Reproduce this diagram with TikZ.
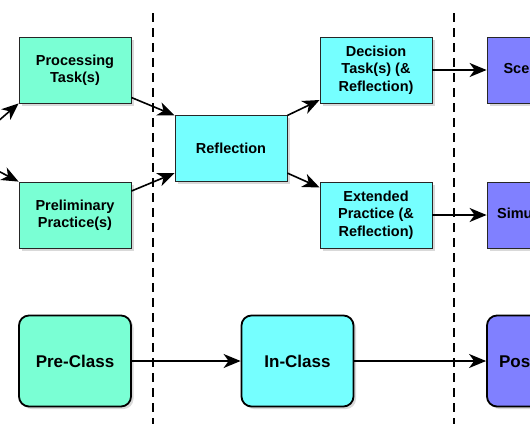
\documentclass[tikz,border=0pt]{standalone}
\usepackage{fontspec}
\setmainfont{Liberation Sans}
\usetikzlibrary{arrows.meta}
\usetikzlibrary{shadows}

\definecolor{preclr}{RGB}{122,255,212}
\definecolor{inclr}{RGB}{117,255,255}
\definecolor{postclr}{RGB}{128,128,255}

\tikzset{
  task/.style={draw=black!85, line width=.8pt, minimum width=112pt, minimum height=66pt, align=center,
    font=\bfseries\fontsize{14.5}{17.5}\selectfont,
    drop shadow={shadow xshift=2.5pt, shadow yshift=-2.5pt, opacity=.3}},
  phase/.style={draw=black, line width=1.8pt, rounded corners=10pt, minimum width=112pt, minimum height=91pt,
    font=\bfseries\fontsize{17}{20}\selectfont,
    drop shadow={shadow xshift=2.5pt, shadow yshift=-2.5pt, opacity=.3}},
  flow/.style={line width=1.6pt, -{Stealth[length=17pt,width=14pt,inset=5pt]}},
  divider/.style={line width=1.8pt, dash pattern=on 9pt off 6pt}
}

\begin{document}
\begin{tikzpicture}[x=1pt,y=-1pt]
\useasboundingbox (0,0) rectangle (530,442);
\clip (0,0) rectangle (530,442);
% dividers
\foreach \x in {153,454}
  \draw[divider] (\x,13) -- (\x,424);
% upper rows
\node[task, fill=preclr] (proc) at (75,70) {Processing\\Task(s)};
\node[task, fill=preclr] (prelim) at (75,215) {Preliminary\\Practice(s)};
\node[task, fill=inclr] (refl) at (231,148) {Reflection};
\node[task, fill=inclr] (decide) at (376,70) {Decision\\Task(s) (\&\\Reflection)};
\node[task, fill=inclr] (extend) at (376,215) {Extended\\Practice (\&\\Reflection)};
\node[task, fill=postclr] (scen) at (543,70) {Scenario(s)};
\node[task, fill=postclr] (simu) at (543,215) {Simulation(s)};
% phases
\node[phase, fill=preclr] (pre) at (75,361) {Pre-Class};
\node[phase, fill=inclr] (in) at (297.5,361) {In-Class};
\node[phase, fill=postclr] (post) at (543,361) {Post-Class};
% arrows
\coordinate (src1) at (-19,136);
\coordinate (src2) at (-19,162);
\draw[flow] (src1) -- (proc.south west);
\draw[flow] (src2) -- (prelim.north west);
\draw[flow] (proc.-26) -- (refl.150);
\draw[flow] (prelim.23) -- (refl.204);
\draw[flow] (refl.30) -- (decide.208);
\draw[flow] (refl.-24) -- (extend.154);
\draw[flow] (decide) -- (scen);
\draw[flow] (extend) -- (simu);
\draw[flow] (pre) -- (in);
\draw[flow] (in) -- (post);
\end{tikzpicture}
\end{document}
